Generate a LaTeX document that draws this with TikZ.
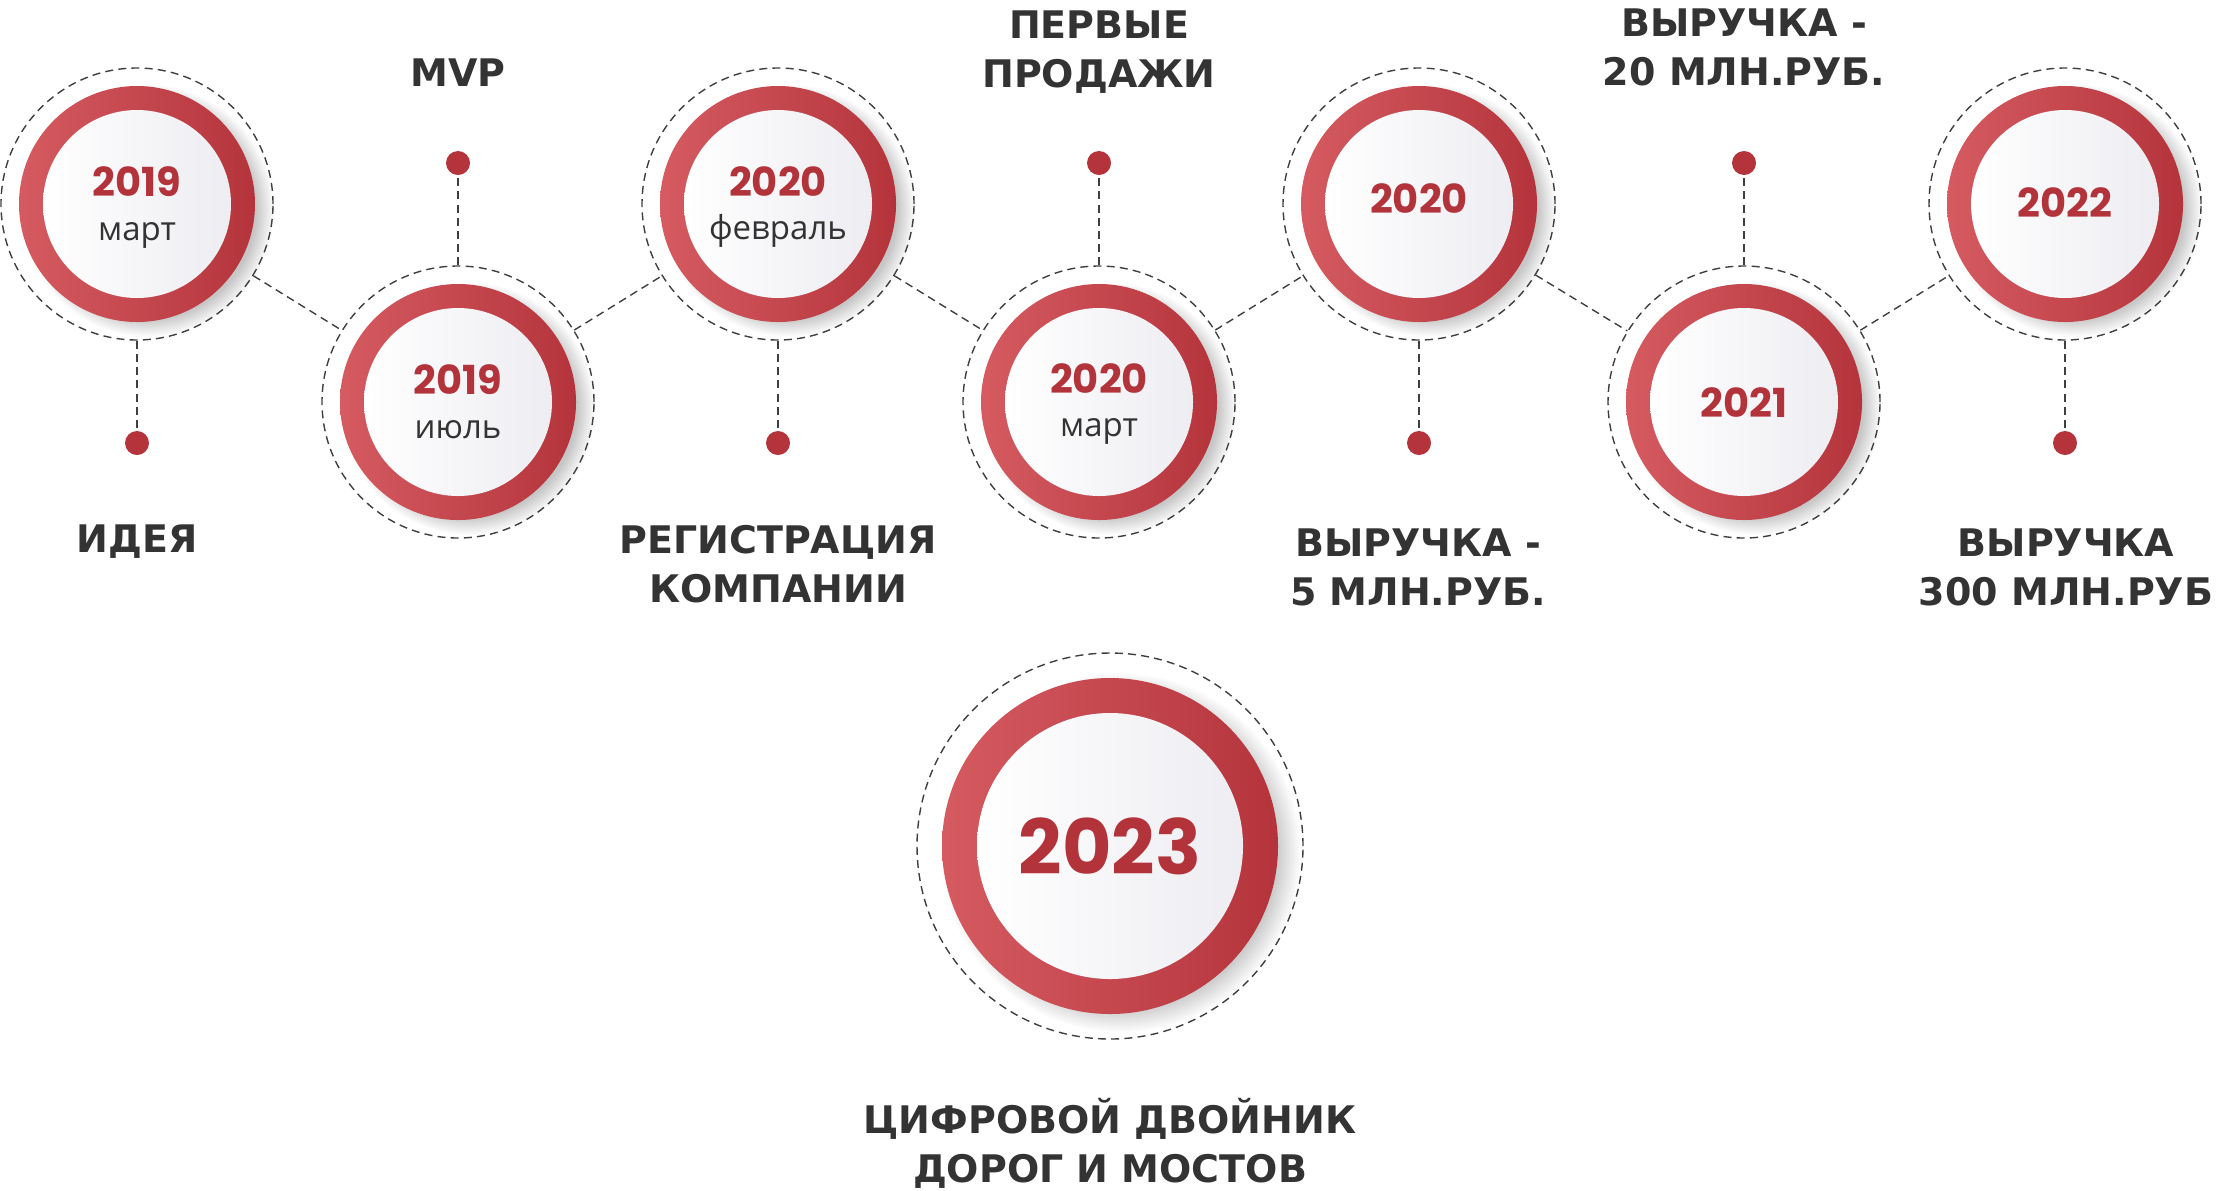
\documentclass[tikz,border=0pt]{standalone}
\usepackage{fontspec}
\setmainfont{DejaVu Sans}
\newfontfamily\yearfont{Poppins}
\newfontfamily\monthfont{Open Sans}
\usepackage{tikz}
\usetikzlibrary{shadows,positioning}
\definecolor{ringlight}{HTML}{D55B61}
\definecolor{ringdark}{HTML}{B5343C}
\definecolor{yearred}{HTML}{B3333B}
\definecolor{textdark}{HTML}{333333}
\definecolor{dashgray}{HTML}{3F3F3F}
\definecolor{facegray}{HTML}{EDEDF2}

\begin{document}
\begin{tikzpicture}[x=0.5pt,y=-0.5pt,
    ring/.style={circle, draw=dashgray, line width=0.7pt, dash pattern=on 4pt off 2.6pt, minimum size=136pt, inner sep=0pt},
    bigring/.style={ring, minimum size=193pt},
    disk/.style={circle, minimum size=118pt, inner sep=0pt, left color=ringlight, right color=ringdark,
      circular drop shadow={shadow xshift=5pt, shadow yshift=-3pt, shadow scale=1.07, opacity=0.45}},
    bigdisk/.style={disk, minimum size=168pt},
    face/.style={circle, minimum size=94pt, inner sep=0pt, left color=white, right color=facegray},
    bigface/.style={face, minimum size=133pt},
    pin/.style={circle, fill=ringdark, minimum size=12pt, inner sep=0pt},
    link/.style={draw=dashgray, line width=0.7pt, dash pattern=on 4pt off 2.6pt},
    year/.style={font=\yearfont\bfseries\fontsize{20pt}{22pt}\selectfont, text=yearred, anchor=base, inner sep=0pt},
    bigyear/.style={year, font=\yearfont\bfseries\fontsize{38pt}{40pt}\selectfont},
    month/.style={font=\monthfont\fontsize{16.5pt}{18pt}\selectfont, text=textdark, anchor=base, inner sep=0pt},
    caption/.style={font=\bfseries\fontsize{19pt}{24.5pt}\selectfont, text=textdark, align=center, anchor=base, inner sep=0pt}]
        \useasboundingbox (0,0) rectangle (2219,1190);
        \coordinate (c1) at (137,204);
        \coordinate (c2) at (458,402);
        \coordinate (c3) at (778,204);
        \coordinate (c4) at (1099,402);
        \coordinate (c5) at (1419,204);
        \coordinate (c6) at (1744,402);
        \coordinate (c7) at (2065,204);
        \coordinate (c8) at (1110,846);
        %Disks
        \node[disk] (k1) at (c1) {};
        \node[disk] (k2) at (c2) {};
        \node[disk] (k3) at (c3) {};
        \node[disk] (k4) at (c4) {};
        \node[disk] (k5) at (c5) {};
        \node[disk] (k6) at (c6) {};
        \node[disk] (k7) at (c7) {};
        \node[bigdisk] (k8) at (c8) {};
        \node[face] (f1) at (c1) {};
        \node[face] (f2) at (c2) {};
        \node[face] (f3) at (c3) {};
        \node[face] (f4) at (c4) {};
        \node[face] (f5) at (c5) {};
        \node[face] (f6) at (c6) {};
        \node[face] (f7) at (c7) {};
        \node[bigface] (f8) at (c8) {};
        %Dashed rings
        \node[ring] (r1) at (c1) {};
        \node[ring] (r2) at (c2) {};
        \node[ring] (r3) at (c3) {};
        \node[ring] (r4) at (c4) {};
        \node[ring] (r5) at (c5) {};
        \node[ring] (r6) at (c6) {};
        \node[ring] (r7) at (c7) {};
        \node[bigring] (r8) at (c8) {};
        %Years
        \node[year] (y1) at (137,196) {2019};
        \node[month] (m1) at (137,240) {март};
        \node[year] (y2) at (458,394) {2019};
        \node[month] (m2) at (458,438) {июль};
        \node[year] (y3) at (778,196) {2020};
        \node[month] (m3) at (778,239) {февраль};
        \node[year] (y4) at (1099,393) {2020};
        \node[month] (m4) at (1099,436) {март};
        \node[year] (y5) at (1419,213) {2020};
        \node[year] (y6) at (1744,417) {2021};
        \node[year] (y7) at (2065,217) {2022};
        \node[bigyear] (y8) at (1110,874) {2023};
        %Pins
        \node[pin] (p1) at (137,443) {};
        \node[pin] (p2) at (458,163) {};
        \node[pin] (p3) at (778,443) {};
        \node[pin] (p4) at (1099,163) {};
        \node[pin] (p5) at (1419,443) {};
        \node[pin] (p6) at (1744,163) {};
        \node[pin] (p7) at (2065,443) {};
        %Links
        \draw[link] (r1) -- (r2);
        \draw[link] (r2) -- (r3);
        \draw[link] (r3) -- (r4);
        \draw[link] (r4) -- (r5);
        \draw[link] (r5) -- (r6);
        \draw[link] (r6) -- (r7);
        \draw[link] (r1) -- (p1);
        \draw[link] (r2) -- (p2);
        \draw[link] (r3) -- (p3);
        \draw[link] (r4) -- (p4);
        \draw[link] (r5) -- (p5);
        \draw[link] (r6) -- (p6);
        \draw[link] (r7) -- (p7);
        %Labels (base = last line)
        \node[caption] (l1) at (137,552) {ИДЕЯ};
        \node[caption] (l2) at (458,86) {MVP};
        \node[caption] (l3) at (778,602) {РЕГИСТРАЦИЯ\\КОМПАНИИ};
        \node[caption] (l4) at (1099,87) {ПЕРВЫЕ\\ПРОДАЖИ};
        \node[caption] (l5) at (1418,605) {ВЫРУЧКА -\\5 МЛН.РУБ.};
        \node[caption] (l6) at (1744,85) {ВЫРУЧКА -\\20 МЛН.РУБ.};
        \node[caption] (l7) at (2066,605) {ВЫРУЧКА\\300 МЛН.РУБ};
        \node[caption] (l8) at (1110,1182) {ЦИФРОВОЙ ДВОЙНИК\\ДОРОГ И МОСТОВ};
      \end{tikzpicture}
\end{document}
